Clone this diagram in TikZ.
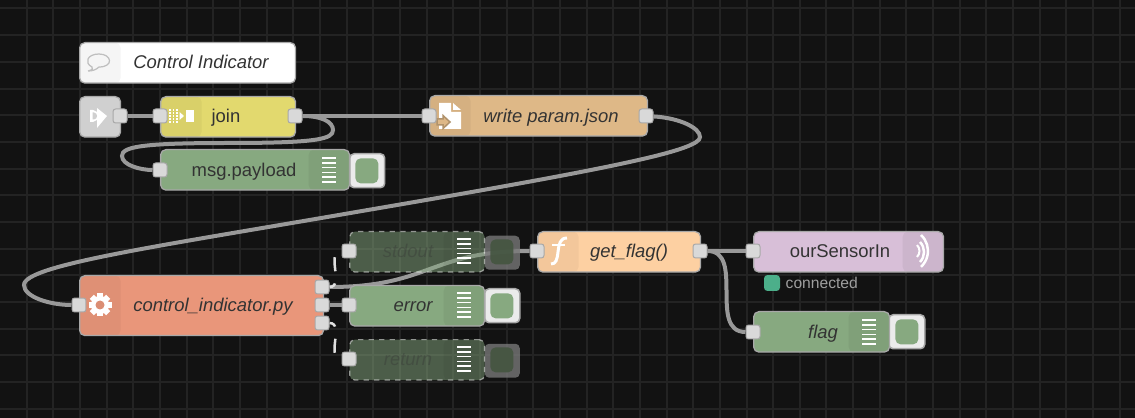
\documentclass[tikz,border=0pt]{standalone}
\usepackage{fontspec}
\setmainfont{Liberation Sans}
\usepackage{xcolor}
\usepackage{tikz}
\usetikzlibrary{positioning}
\definecolor{canvas}{HTML}{121212}
\definecolor{gridcol}{HTML}{232323}
\definecolor{wirecol}{HTML}{999999}
\definecolor{edgecol}{HTML}{A8A8A8}
\definecolor{portcol}{HTML}{D9D9D9}
\definecolor{inkcol}{HTML}{333333}
\definecolor{joincol}{HTML}{E2D96E}
\definecolor{linkcol}{HTML}{D0D0D0}
\definecolor{debugcol}{HTML}{87A980}
\definecolor{filecol}{HTML}{DEB887}
\definecolor{funccol}{HTML}{FDD0A2}
\definecolor{execcol}{HTML}{E9967A}
\definecolor{mqttcol}{HTML}{D8BFD8}
\definecolor{okcol}{HTML}{4CAF8A}
\pgfdeclarelayer{gridlayer}
\pgfdeclarelayer{wirelayer}
\pgfsetlayers{gridlayer,wirelayer,main}

\begin{document}
\begin{tikzpicture}[
  x=0.02cm, y=-0.02cm,
  nodebox/.style={draw=edgecol, line width=0.025cm, rounded corners=3pt, anchor=north west,
              inner sep=0pt, minimum height=0.81cm},
  leftband/.style={path picture={\fill[black,opacity=.04] (path picture bounding box.north west)
              rectangle ([xshift=.82cm]path picture bounding box.south west);}},
  rightband/.style={path picture={\fill[black,opacity=.05] (path picture bounding box.north east)
              rectangle ([xshift=-.82cm]path picture bounding box.south east);}},
  off/.style={opacity=.5, draw=white, dashed},
  port/.style={draw=edgecol, fill=portcol, line width=0.02cm, rounded corners=1.5pt,
              inner sep=0pt, minimum size=0.28cm},
  btn/.style={draw=edgecol, fill=white!92!black, line width=0.03cm, rounded corners=2.5pt, anchor=north west,
              inner sep=0pt, minimum width=0.7cm, minimum height=0.68cm},
  dimbtn/.style={btn, draw=none, fill=white!47!black, opacity=.8},
  btnfill/.style={fill=debugcol, rounded corners=3pt, anchor=north west, inner sep=0pt,
              minimum width=0.46cm, minimum height=0.5cm},
  lbl/.style={text=inkcol, inner sep=0pt, anchor=mid, yshift=-0.035cm, font=\fontsize{10.5}{12}\selectfont},
  ilbl/.style={lbl, font=\fontsize{10.5}{12}\selectfont\itshape},
  wire/.style={draw=wirecol, line width=0.08cm},
  offwire/.style={draw=white!88!black, line width=0.05cm, dash pattern=on 8pt off 7pt, dash phase=4pt},
  bars/.style={draw=white, line width=0.035cm}
]
\useasboundingbox (0,0) rectangle (1135,418);
\begin{pgfonlayer}{gridlayer}
\fill[canvas] (0,0) rectangle (1135,418);
\foreach \gx in {26.67,53.33,...,1135} \draw[gridcol, line width=0.04cm] (\gx,0) -- (\gx,418);
\foreach \gy in {8.5,35.17,...,418} \draw[gridcol, line width=0.04cm] (0,\gy) -- (1135,\gy);
\end{pgfonlayer}

\node[nodebox, fill=white, leftband, minimum width=4.32cm] (comment) at (79,42) {};
\node[ilbl] (commenttxt) at (201,62) {Control Indicator};
\draw[black!25, line width=0.025cm] (88,71) .. controls (93,70) and (93,68) .. (92,67) .. controls (84,63) and (87,54) .. (99,54) .. controls (112,54) and (114,67) .. (99,67) .. controls (96,70) and (92,71) .. (88,71);

\node[nodebox, fill=linkcol, minimum width=0.82cm] (linkin) at (79,96) {};
\fill[white] (97,108) -- (107,116) -- (97,128) -- (97,120) -- (93,122) -- (90,122) -- (90,110) -- (93,110) -- (97,112) -- cycle;
\fill[linkcol] (92.5,112.5) -- (94,112.5) .. controls (98,113) and (98,119) .. (94,119.5) -- (92.5,119.5) -- cycle;

\node[nodebox, fill=joincol, leftband, minimum width=2.7cm] (join) at (160,96) {};
\node[lbl] (jointxt) at (226,116) {join};
\foreach \dx in {170,173.5,177} \foreach \dy in {110,113,116,119,122}
  \fill[white] (\dx-1,\dy-1) rectangle (\dx+.6,\dy+.6);
\fill[white] (179.5,112) -- (184,116) -- (179.5,120) -- cycle;
\fill[white] (186,110) rectangle (194,122.5);

\node[nodebox, fill=filecol, leftband, minimum width=4.36cm] (writefile) at (429,95) {};
\node[ilbl] (writetxt) at (551,116) {write param.json};
\fill[white] (439,103) -- (451,103) -- (451,112) -- (461,112) -- (461,129) -- (439,129) -- cycle;
\fill[white] (453,103) -- (461,110) -- (453,110) -- cycle;
\draw[filecol!80!black, fill=filecol, line width=0.03cm] (437,119) -- (443,119) -- (443,115.5) -- (450,122) -- (443,128.5) -- (443,125) -- (437,125) -- cycle;

\node[btn] (msgbtn) at (349,153) {};
\node[btnfill] (msgbtnfill) at (355,158) {};
\node[nodebox, fill=debugcol, rightband, minimum width=3.78cm] (msgdebug) at (160,149) {};
\node[lbl] (msgtxt) at (244,170) {msg.payload};
\foreach \by in {158,162.8,...,183} \draw[bars] (322,\by) -- (336,\by);

\node[nodebox, fill=execcol, leftband, minimum width=4.88cm, minimum height=1.2cm] (execnode) at (79,275) {};
\node[ilbl] (exectxt) at (213,305) {control\_indicator.py};
\foreach \ang in {0,45,...,315} \fill[white, rotate around={\ang:(100,305)}] (97,293.5) rectangle (103,300);
\fill[white] (100,305) circle (9);
\fill[execcol!94!black] (100,305) circle (4.5);

\node[dimbtn] (stdbtn) at (484,235) {};
\node[btnfill, fill=debugcol!50!black, opacity=.9] (stdbtnfill) at (490,239) {};
\node[nodebox, fill=debugcol, rightband, off, minimum width=2.7cm] (stddebug) at (349,231) {};
\node[ilbl, opacity=.35] (stdtxt) at (408,251) {stdout};
\foreach \by in {239,243.8,...,264} \draw[bars] (457,\by) -- (471,\by);

\node[btn] (errbtn) at (484,288) {};
\node[btnfill] (errbtnfill) at (490,293) {};
\node[nodebox, fill=debugcol, rightband, minimum width=2.7cm] (errdebug) at (349,285) {};
\node[ilbl] (errtxt) at (413,305) {error};
\foreach \by in {293,297.8,...,318} \draw[bars] (457,\by) -- (471,\by);

\node[dimbtn] (retbtn) at (484,343) {};
\node[btnfill, fill=debugcol!50!black, opacity=.9] (retbtnfill) at (490,347) {};
\node[nodebox, fill=debugcol, rightband, off, minimum width=2.7cm] (retdebug) at (349,339) {};
\node[ilbl, opacity=.35] (rettxt) at (408,359) {return};
\foreach \by in {347,351.8,...,372} \draw[bars] (457,\by) -- (471,\by);

\node[nodebox, fill=funccol, leftband, minimum width=3.26cm] (func) at (537,231) {};
\node[ilbl] (functxt) at (629,251) {get\_flag()};
\draw[white, line width=0.06cm] (551,264) .. controls (556,264) and (557,260) .. (558,252) .. controls (559,244) and (560,238) .. (567,238);
\draw[white, line width=0.05cm] (552,245) -- (565,245);

\node[nodebox, fill=mqttcol, rightband, minimum width=3.8cm] (mqtt) at (753,231) {};
\node[lbl] (mqtttxt) at (840,251) {ourSensorIn};
\draw[white, line width=0.04cm] (917,245) arc (-45:45:8.45);
\draw[white, line width=0.05cm] (920,242) arc (-43.6:43.6:14.5);
\draw[white, line width=0.05cm] (921,235) arc (-47:47:21.8);
\node[fill=okcol, rounded corners=2pt, inner sep=0pt, minimum size=0.32cm] (mqttok) at (772,283) {};
\node[lbl, anchor=west, yshift=0.035cm, text=white!62!black, font=\fontsize{8.9}{10}\selectfont, right=0.1cm of mqttok] (mqttstatus) {connected};

\node[btn, minimum width=0.72cm] (flagbtn) at (888,314) {};
\node[btnfill] (flagbtnfill) at (895,319) {};
\node[nodebox, fill=debugcol, rightband, minimum width=2.72cm] (flagdebug) at (753,311) {};
\node[ilbl] (flagtxt) at (823,332) {flag};
\foreach \by in {320,324.8,...,345} \draw[bars] (862,\by) -- (876,\by);

\node[port] (linkout) at (120,116) {};
\node[port] (joinin) at (160,116) {};
\node[port] (joinout) at (295,116) {};
\node[port] (writein) at (429,116) {};
\node[port] (writeout) at (646,116) {};
\node[port] (msgin) at (160,170) {};
\node[port] (execin) at (79,305) {};
\node[port] (execa) at (322,287) {};
\node[port] (execb) at (322,305) {};
\node[port] (execc) at (322,323) {};
\node[port] (stdin) at (349,251) {};
\node[port] (errin) at (349,305) {};
\node[port] (retin) at (349,359) {};
\node[port] (funcin) at (537,251) {};
\node[port] (funcout) at (700,251) {};
\node[port] (mqttin) at (753,251) {};
\node[port] (flagin) at (753,332) {};

\begin{pgfonlayer}{wirelayer}
\draw[wire] (linkout) -- (joinin);
\draw[wire] (joinout) -- (writein);
\draw[wire] (joinout) .. controls (322,116) and (333,122) .. (333,130) .. controls (333,139) and (318,143) .. (228,143) .. controls (140,143) and (122,147) .. (122,156) .. controls (122,165) and (140,170) .. (msgin);
\draw[wire] (writeout) .. controls (680,118) and (700,128) .. (700,137) .. controls (700,150) and (620,167) .. (362,211) .. controls (160,246) and (24,265) .. (24,285) .. controls (24,297) and (50,305) .. (execin);
\draw[wire] (execa) .. controls (430,287) and (430,251) .. (funcin);
\draw[wire] (execb) -- (errin);
\draw[wire] (funcout) -- (mqttin);
\draw[wire] (funcout) .. controls (745,251) and (708,332) .. (flagin);
\draw[offwire] (execa) .. controls (345,287) and (325,251) .. (stdin);
\draw[offwire] (execc) .. controls (345,323) and (325,359) .. (retin);
\end{pgfonlayer}
\end{tikzpicture}
\end{document}
